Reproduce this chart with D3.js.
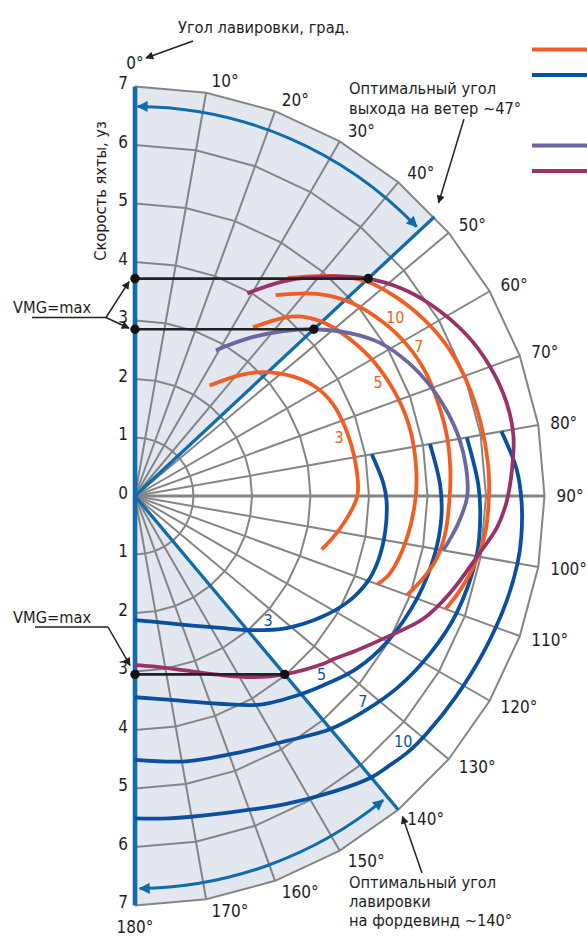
<!DOCTYPE html>
<html><head><meta charset="utf-8">
<script src="https://cdn.jsdelivr.net/npm/d3@7"></script>
<style>
html,body{margin:0;padding:0;background:#fff;}
svg{display:block;}
text{font-family:"DejaVu Sans Condensed","Liberation Sans Narrow","Arial Narrow",sans-serif;fill:#1e1e1e;}
</style></head><body>
<svg id="chart" width="587" height="936"></svg>
<script>
// ---------- data (angle to wind in degrees, boat speed in knots) ----------
const speedTicks = [0,1,2,3,4,5,6,7];
const angleTicks = [0,10,20,30,40,50,60,70,80,90,100,110,120,130,140,150,160,170,180];
const windSpeeds = ["3","5","7","10"];

const upwind3  = [[34,2.28],[41,2.74],[46,3.05],[53,3.39],[59,3.61],[65,3.73],[72,3.78],[81,3.81],[90,3.8],[99,3.55],[106,3.32]];
const upwind5  = [[35,3.52],[40,3.98],[43,4.19],[48,4.4],[54,4.55],[61,4.69],[70,4.8],[77,4.84],[84,4.83],[90,4.8],[99,4.7],[107,4.55],[110,4.41]];
const upwind7  = [[35,4.19],[42,4.65],[48,4.95],[55,5.18],[61,5.32],[67,5.4],[73,5.42],[79,5.43],[85,5.41],[90,5.38],[97,5.34],[102,5.26],[106,5.12],[110,4.95]];
const upwind10 = [[35,4.55],[42,5.06],[47,5.39],[53,5.62],[59,5.8],[65,5.93],[71,6.0],[78,6.04],[85,6.06],[90,6.05],[96,6.02],[101,5.93],[106,5.79],[110,5.65]];

const downwind3  = [[80,4.11],[87,4.25],[91,4.3],[98,4.32],[105,4.3],[110,4.24],[116,4.08],[123,3.8],[131,3.44],[139,3.04],[147,2.69],[158,2.38],[172,2.17],[180,2.12]];
const downwind5  = [[80,5.12],[88,5.22],[94,5.25],[101,5.22],[110,5.13],[120,4.98],[128,4.8],[135,4.57],[140,4.42],[149,4.16],[158,3.83],[170,3.54],[180,3.44]];
const downwind7  = [[80,5.76],[88,5.87],[93,5.91],[100,5.93],[110,5.85],[118,5.72],[126,5.56],[133,5.38],[140,5.2],[148,4.93],[158,4.73],[169,4.62],[180,4.51]];
const downwind10 = [[80,6.36],[86,6.54],[91,6.61],[96,6.64],[100,6.64],[106,6.6],[114,6.53],[122,6.47],[129,6.43],[133,6.4],[137,6.33],[140,6.28],[146,6.09],[154,5.86],[165,5.62],[174,5.54],[180,5.51]];

const purplePolar = [[29,2.85],[36,3.34],[42,3.79],[47,4.18],[53,4.62],[58,4.94],[64,5.2],[70,5.4],[75,5.53],[80,5.63],[85,5.68],[90,5.68],[95,5.54],[100,5.35]];
const plumPolar   = [[29,3.96],[35,4.49],[42,5.05],[47,5.45],[52,5.77],[57,6.02],[64,6.3],[70,6.46],[76,6.55],[81,6.55],[86,6.46],[91,6.35],[95,6.21],[100,5.94],[107,5.64],[113,5.36],[119,4.95],[125,4.61],[129,4.41],[132,4.3],[140,3.98],[147,3.69],[155,3.37],[164,3.1],[174,2.93],[180,2.89]];

const optimalAngles = [47,140];
const vmgPoints = [[47,5.45],[47,4.18],[140,3.98]];
const upwindLabelPos   = [[55.5,5.40],[62.3,5.48],[64.9,4.59],[73.9,3.63]];   // labels 10,7,5,3
const upwindLabelText  = ["10","7","5","3"];
const downwindLabelPos = [[133,3.11],[133.8,4.42],[132.1,5.25],[132.5,6.22]]; // labels 3,5,7,10
const tackArcs = [[6.66,0.4,46.3],[6.71,140.8,179.3]];

// ---------- styles ----------
const C = {grid:"#858585", shade:"#e3e7f0", axis:"#106cab", orange:"#f15d22", blue:"#0b4f9f",
           purple:"#6a68a0", plum:"#993268", black:"#222"};
const FS_TXT = 16.3, FS_NUM = 17;

// ---------- scales ----------
const cx = 135, cy = 496;
const rS = d3.scaleLinear().domain([0,7]).range([0,409.5]);
const aS = d3.scaleLinear().domain([0,180]).range([0,Math.PI]);
const P = (deg, sp) => [cx + rS(sp)*Math.sin(aS(deg)), cy - rS(sp)*Math.cos(aS(deg))];

const svg = d3.select("#chart");
const defs = svg.append("defs");
function marker(id, color, w, h){
  defs.append("marker").attr("id",id).attr("viewBox","0 0 10 10").attr("refX",9).attr("refY",5)
    .attr("markerUnits","userSpaceOnUse").attr("markerWidth",w).attr("markerHeight",h)
    .attr("orient","auto-start-reverse")
    .append("path").attr("d","M0,0 L10,5 L0,10 z").attr("fill",color);
}
marker("arrK", C.black, 11, 8);
marker("arrB", C.axis, 15, 11);

const g = svg.append("g").attr("transform",`translate(${cx},${cy})`);
const radial = d3.lineRadial().angle(d=>aS(d[0])).radius(d=>rS(d[1]));

// shaded sectors
g.append("path").attr("fill",C.shade)
 .attr("d", radial([[0,0],[0,7],[10,7],[20,7],[30,7],[40,7],[47,6.98],[47,0]])+"Z");
g.append("path").attr("fill",C.shade)
 .attr("d", radial([[140,0],[140,7],[150,7],[160,7],[170,7],[180,7],[180,0]])+"Z");

// grid rings (polygonal) & spokes
speedTicks.filter(s=>s>0).forEach(s=>{
  g.append("path").attr("fill","none").attr("stroke",C.grid).attr("stroke-width",2)
   .attr("d", radial(angleTicks.map(t=>[t,s])));
});
angleTicks.filter(t=>t>0 && t<180).forEach(t=>{
  g.append("path").attr("stroke",C.grid).attr("stroke-width", t===90?3.2:2)
   .attr("d", radial([[t,0],[t,7]]));
});

// axis and optimal-angle lines
g.append("path").attr("stroke",C.axis).attr("stroke-width",4.6).attr("d", radial([[0,7],[0,0]]) );
g.append("path").attr("stroke",C.axis).attr("stroke-width",4.6).attr("d", radial([[180,0],[180,7]]) );
optimalAngles.forEach(t=>{
  g.append("path").attr("stroke",C.axis).attr("stroke-width",3.3).attr("d", radial([[t,0],[t,7]]));
});

// tack arcs with arrows
tackArcs.forEach(([s,a0,a1])=>{
  const p = d3.path();
  p.arc(0,0,rS(s), aS(a0)-Math.PI/2, aS(a1)-Math.PI/2, false);
  g.append("path").attr("fill","none").attr("stroke",C.axis).attr("stroke-width",3)
   .attr("marker-start","url(#arrB)").attr("marker-end","url(#arrB)").attr("d", p.toString());
});

// series curves
const curve = d3.lineRadial().angle(d=>aS(d[0])).radius(d=>rS(d[1])).curve(d3.curveCatmullRom.alpha(0.5));
[downwind3,downwind5,downwind7,downwind10].forEach(d=>{
  g.append("path").attr("fill","none").attr("stroke",C.blue).attr("stroke-width",3.8).attr("d",curve(d));
});
[upwind3,upwind5,upwind7,upwind10].forEach(d=>{
  g.append("path").attr("fill","none").attr("stroke",C.orange).attr("stroke-width",3.8).attr("d",curve(d));
});
g.append("path").attr("fill","none").attr("stroke",C.purple).attr("stroke-width",3.8).attr("d",curve(purplePolar));
g.append("path").attr("fill","none").attr("stroke",C.plum).attr("stroke-width",3.8).attr("d",curve(plumPolar));

// VMG lines and dots
vmgPoints.forEach(([t,s])=>{
  const [x,y] = P(t,s);
  svg.append("line").attr("x1",cx).attr("x2",x).attr("y1",y).attr("y2",y)
     .attr("stroke",C.black).attr("stroke-width",2.7);
  svg.append("circle").attr("cx",cx).attr("cy",y).attr("r",4.7).attr("fill","#111");
  svg.append("circle").attr("cx",x).attr("cy",y).attr("r",4.7).attr("fill","#111");
});

// curve labels
upwindLabelPos.forEach(([t,s],i)=>{
  const [x,y]=P(t,s);
  svg.append("text").attr("x",x).attr("y",y).attr("text-anchor","middle").attr("dominant-baseline","central")
    .attr("font-size",16).style("fill",C.orange).text(upwindLabelText[i]);
});
downwindLabelPos.forEach(([t,s],i)=>{
  const [x,y]=P(t,s);
  svg.append("text").attr("x",x).attr("y",y).attr("text-anchor","middle").attr("dominant-baseline","central")
    .attr("font-size",16).style("fill",C.blue).text(windSpeeds[i]);
});

// speed tick labels (up and down)
speedTicks.forEach(s=>{
  [0,180].forEach(t=>{
    if (s===0 && t===180) return;
    const [,y] = P(t,s);
    svg.append("text").attr("x",128).attr("y",y-3.5).attr("text-anchor","end")
      .attr("dominant-baseline","central").attr("font-size",FS_NUM).text(s);
  });
});

// angle labels
angleTicks.forEach(t=>{
  const [x,y] = P(t,7);
  const th = aS(t);
  const tx = svg.append("text").attr("font-size",FS_NUM).attr("dominant-baseline","central").text(t+"°");
  if (t===0)      tx.attr("x",x).attr("y",y-24).attr("text-anchor","middle");
  else if (t===180) tx.attr("x",x).attr("y",y+21).attr("text-anchor","middle");
  else tx.attr("x",x+4+8*Math.sin(th)).attr("y",y-12*Math.cos(th)).attr("text-anchor","start");
});

// axis title
svg.append("text").attr("transform","translate(106,191) rotate(-90)").attr("text-anchor","middle")
  .attr("font-size",FS_TXT).text("Скорость яхты, уз");

// top title + arrow
svg.append("text").attr("x",178).attr("y",33).attr("font-size",FS_TXT).text("Угол лавировки, град.");
svg.append("line").attr("x1",193).attr("y1",41).attr("x2",146).attr("y2",58)
  .attr("stroke",C.black).attr("stroke-width",1.5).attr("marker-end","url(#arrK)");

// VMG=max annotations
const [, yV1] = P(47,5.45), [, yV2] = P(47,4.18), [, yV3] = P(140,3.98);
svg.append("text").attr("x",13).attr("y",313).attr("font-size",FS_TXT).text("VMG=max");
svg.append("path").attr("fill","none").attr("stroke",C.black).attr("stroke-width",1.5).attr("d","M32,317.5 L106,317.5");
svg.append("line").attr("x1",106).attr("y1",317.5).attr("x2",129).attr("y2",yV1+3)
  .attr("stroke",C.black).attr("stroke-width",1.5).attr("marker-end","url(#arrK)");
svg.append("line").attr("x1",106).attr("y1",317.5).attr("x2",129).attr("y2",yV2-1)
  .attr("stroke",C.black).attr("stroke-width",1.5).attr("marker-end","url(#arrK)");
svg.append("text").attr("x",13).attr("y",623).attr("font-size",FS_TXT).text("VMG=max");
svg.append("path").attr("fill","none").attr("stroke",C.black).attr("stroke-width",1.5).attr("d","M35,627 L108,627");
svg.append("line").attr("x1",108).attr("y1",627).attr("x2",130).attr("y2",yV3-9)
  .attr("stroke",C.black).attr("stroke-width",1.5).attr("marker-end","url(#arrK)");

// optimal angle annotations
const e47 = P(47,7.05), e140 = P(140,7.06);
svg.append("line").attr("x1",464).attr("y1",119).attr("x2",e47[0]+2).attr("y2",e47[1]-12)
  .attr("stroke",C.black).attr("stroke-width",1.5).attr("marker-end","url(#arrK)");
const t1 = svg.append("text").attr("x",349).attr("y",94).attr("font-size",FS_TXT);
t1.append("tspan").attr("x",349).text("Оптимальный угол");
t1.append("tspan").attr("x",349).attr("dy",20).text("выхода на ветер ~47°");
svg.append("line").attr("x1",422).attr("y1",873).attr("x2",e140[0]+2).attr("y2",e140[1]+4)
  .attr("stroke",C.black).attr("stroke-width",1.5).attr("marker-end","url(#arrK)");
const t2 = svg.append("text").attr("x",349).attr("y",888).attr("font-size",FS_TXT);
t2.append("tspan").attr("x",349).text("Оптимальный угол");
t2.append("tspan").attr("x",349).attr("dy",19).text("лавировки");
t2.append("tspan").attr("x",349).attr("dy",19).text("на фордевинд ~140°");

// legend swatches (text cut off at the right edge)
const legendColors = [C.orange, C.blue, C.purple, C.plum];
const legendY = [49.5, 75, 145.5, 171];
legendColors.forEach((c,i)=>{
  svg.append("line").attr("x1",532).attr("x2",600).attr("y1",legendY[i]).attr("y2",legendY[i])
    .attr("stroke",c).attr("stroke-width",4.2);
});
</script>
</body></html>
